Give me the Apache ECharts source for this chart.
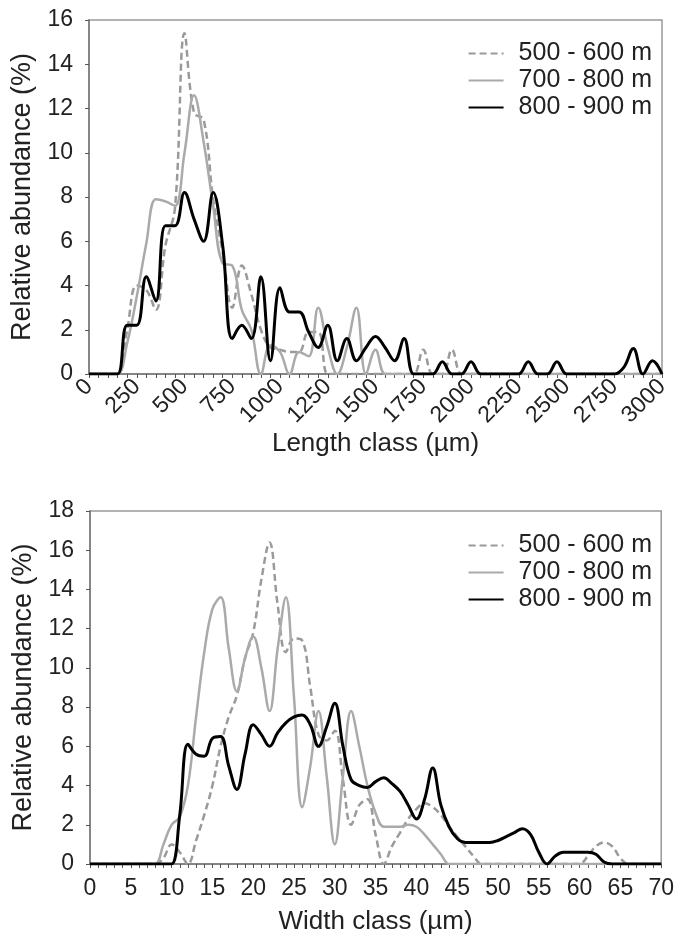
<!DOCTYPE html>
<html>
<head>
<meta charset="utf-8">
<script src="https://cdn.jsdelivr.net/npm/echarts@6/dist/echarts.min.js"></script>
<style>
  html, body { margin: 0; padding: 0; background: #fff; }
  #main { width: 677px; height: 936px; }
</style>
</head>
<body>
<div id="main"></div>
<script>
// length classes (µm), one point every 50
var lengthClass = [0, 50, 100, 150, 200, 250, 300, 350, 400, 450, 500, 550, 600, 650, 700, 750, 800, 850, 900, 950,
  1000, 1050, 1100, 1150, 1200, 1250, 1300, 1350, 1400, 1450, 1500, 1550, 1600, 1650, 1700, 1750, 1800, 1850, 1900, 1950,
  2000, 2050, 2100, 2150, 2200, 2250, 2300, 2350, 2400, 2450, 2500, 2550, 2600, 2650, 2700, 2750, 2800, 2850, 2900, 2950, 3000];

var len500 = [0, 0, 0, 0, 2.0, 4.0, 3.8, 2.9, 5.8, 7.5, 15.4, 11.8, 11.5, 7.9, 5.5, 3.0, 4.9, 3.6, 2.0, 1.2,
  1.1, 1.0, 1.0, 1.9, 1.9, 0, 0, 0, 0, 0, 0, 0, 0, 0, 0, 1.1, 0, 0, 1.1, 0,
  0, 0, 0, 0, 0, 0, 0, 0, 0, 0, 0, 0, 0, 0, 0, 0, 0, 0, 0, 0, 0];
var len700 = [0, 0, 0, 0, 1.4, 3.5, 5.9, 7.9, 7.8, 7.6, 10.0, 12.6, 10.5, 7.6, 5.0, 4.9, 2.9, 2.0, 0, 1.3,
  1.0, 0, 1.0, 0.8, 3.0, 1.2, 0, 1.2, 3.0, 0, 1.1, 0, 0, 0, 0, 0, 0, 0, 0, 0,
  0, 0, 0, 0, 0, 0, 0, 0, 0, 0, 0, 0, 0, 0, 0, 0, 0, 0, 0, 0, 0];
var len800 = [0, 0, 0, 0, 2.2, 2.2, 4.4, 3.3, 6.7, 6.7, 8.2, 7.0, 6.0, 8.2, 5.8, 1.6, 2.2, 1.6, 4.4, 0.6,
  3.9, 2.8, 2.8, 1.9, 1.2, 2.2, 0.6, 1.6, 0.6, 1.2, 1.7, 1.2, 0.6, 1.6, 0, 0, 0, 0.55, 0, 0,
  0.55, 0, 0, 0, 0, 0, 0.55, 0, 0, 0.55, 0, 0, 0, 0, 0, 0, 0.3, 1.15, 0, 0.6, 0];

// width classes (µm), one point every 1
var widthClass = [0, 1, 2, 3, 4, 5, 6, 7, 8, 9, 10, 11, 12, 13, 14, 15, 16, 17, 18, 19, 20, 21, 22, 23, 24, 25,
  26, 27, 28, 29, 30, 31, 32, 33, 34, 35, 36, 37, 38, 39, 40, 41, 42, 43, 44, 45, 46, 47, 48, 49, 50,
  51, 52, 53, 54, 55, 56, 57, 58, 59, 60, 61, 62, 63, 64, 65, 66, 67, 68, 69, 70];

var wid500 = [0, 0, 0, 0, 0, 0, 0, 0, 0, 0.3, 1.0, 0.6, 0, 1.2, 2.5, 4.0, 6.0, 7.5, 8.6, 10.5,
  11.8, 14.5, 16.4, 13.2, 10.8, 11.5, 11.4, 9.0, 6.6, 6.3, 6.8, 4.3, 2.0, 3.0, 3.3, 1.5, 0, 0.9, 1.6, 2.3,
  2.8, 3.1, 2.9, 2.5, 1.9, 1.4, 0.9, 0.4, 0, 0, 0, 0, 0, 0, 0, 0, 0, 0, 0, 0,
  0, 0.4, 0.9, 1.1, 0.9, 0.3, 0, 0, 0, 0, 0];
var wid700 = [0, 0, 0, 0, 0, 0, 0, 0, 0, 1.0, 2.0, 2.4, 4.0, 7.5, 10.8, 13.0, 13.6, 11.0, 8.8, 10.5,
  11.6, 10.0, 7.8, 11.0, 13.6, 8.5, 2.9, 5.0, 7.8, 4.5, 1.0, 4.5, 7.8, 6.0, 4.0, 2.6, 1.9, 1.9, 1.9, 2.0,
  1.9, 1.5, 1.0, 0.5, 0, 0, 0, 0, 0, 0, 0, 0, 0, 0, 0, 0, 0, 0, 0, 0,
  0, 0, 0, 0, 0, 0, 0, 0, 0, 0, 0];
var wid800 = [0, 0, 0, 0, 0, 0, 0, 0, 0, 0, 0, 2.5, 6.1, 5.6, 5.5, 6.4, 6.5, 5.0, 3.8, 5.6,
  7.1, 6.6, 6.0, 6.7, 7.2, 7.5, 7.6, 7.1, 6.0, 7.0, 8.2, 6.0, 4.3, 4.0, 3.9, 4.2, 4.4, 4.1, 3.7, 3.0,
  2.3, 3.3, 4.9, 3.0, 1.9, 1.3, 1.1, 1.1, 1.1, 1.1, 1.2, 1.4, 1.6, 1.8, 1.5, 0.6, 0, 0.4, 0.6, 0.6,
  0.6, 0.6, 0.5, 0.1, 0, 0, 0, 0, 0, 0, 0];

var names = ['500 - 600 m', '700 - 800 m', '800 - 900 m'];

var chartDom = document.getElementById('main');
var myChart = echarts.init(chartDom);
var font = 'Liberation Sans, Arial, sans-serif';

var styles = [
  { color: '#9a9a9a', width: 2.5, type: [7, 4] },
  { color: '#aaaaaa', width: 2.5, type: 'solid' },
  { color: '#000000', width: 3, type: 'solid' }
];

function makeSeries(data, i, gi) {
  return {
    name: names[i],
    type: 'line',
    xAxisIndex: gi,
    yAxisIndex: gi,
    data: data,
    smooth: 0.4,
    symbol: 'none',
    z: 2 + i,
    lineStyle: styles[i],
    itemStyle: { color: styles[i].color }
  };
}

function xAxisBase(gi, cats, name, gap) {
  return {
    type: 'category',
    gridIndex: gi,
    data: cats,
    boundaryGap: false,
    name: name,
    nameLocation: 'middle',
    nameGap: gap,
    nameTextStyle: { fontFamily: font, fontSize: 26, color: '#222' },
    axisLine: { lineStyle: { color: '#777', width: 1.5 } },
    axisTick: { show: true, interval: 0, length: 4, inside: false, lineStyle: { color: '#555' } },
    axisLabel: { interval: 4, fontFamily: font, fontSize: 23, color: '#222', margin: 13 },
    splitLine: { show: false }
  };
}

function yAxisBase(gi, max) {
  return {
    type: 'value',
    gridIndex: gi,
    min: 0,
    max: max,
    interval: 2,
    name: 'Relative abundance (%)',
    nameLocation: 'middle',
    nameGap: 53,
    nameTextStyle: { fontFamily: font, fontSize: 27, color: '#222' },
    axisLine: { show: true, lineStyle: { color: '#777', width: 1.5 } },
    axisTick: { show: true, length: 4, lineStyle: { color: '#555' } },
    axisLabel: { fontFamily: font, fontSize: 23, color: '#222', margin: 16 },
    splitLine: { show: false }
  };
}

var xTop = xAxisBase(0, lengthClass, 'Length class (µm)', 55);
xTop.axisLabel.rotate = 45;
xTop.axisLabel.margin = 9;
var xBot = xAxisBase(1, widthClass, 'Width class (µm)', 45);

var legendBase = {
  orient: 'vertical',
  right: 20,
  itemWidth: 35,
  itemHeight: 10,
  itemGap: 2,
  data: names,
  itemStyle: { opacity: 0 },
  textStyle: { fontFamily: font, fontSize: 25, color: '#222', padding: [0, 0, 0, 10] },
  selectedMode: false
};

var option = {
  backgroundColor: '#fff',
  animation: false,
  grid: [
    { left: 89, top: 20, width: 573, height: 354, show: true, borderColor: '#999', borderWidth: 1.5 },
    { left: 90, top: 511, width: 572, height: 354, show: true, borderColor: '#999', borderWidth: 1.5 }
  ],
  legend: [
    Object.assign({}, legendBase, { top: 36 }),
    Object.assign({}, legendBase, { top: 528 })
  ],
  xAxis: [xTop, xBot],
  yAxis: [yAxisBase(0, 16), yAxisBase(1, 18)],
  series: [
    makeSeries(len500, 0, 0),
    makeSeries(len700, 1, 0),
    makeSeries(len800, 2, 0),
    makeSeries(wid500, 0, 1),
    makeSeries(wid700, 1, 1),
    makeSeries(wid800, 2, 1)
  ]
};

myChart.setOption(option);

window.onresize = function () {
  myChart.resize();
};
</script>
</body>
</html>
